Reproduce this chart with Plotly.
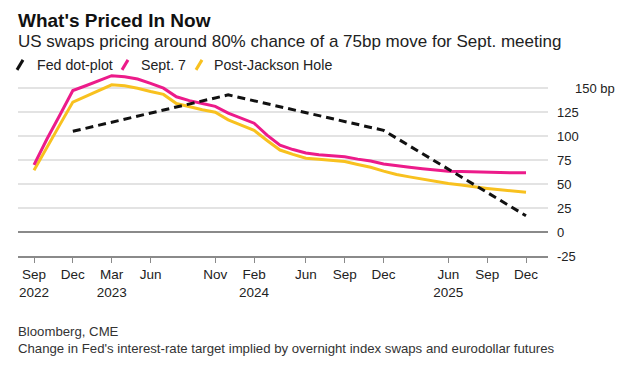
import plotly.graph_objects as go

# ---------------- data ----------------
months = ["2022-09", "2022-10", "2022-11", "2022-12",
          "2023-01", "2023-02", "2023-03", "2023-04", "2023-05", "2023-06",
          "2023-07", "2023-08", "2023-09", "2023-10", "2023-11", "2023-12",
          "2024-01", "2024-02", "2024-03", "2024-04", "2024-05", "2024-06",
          "2024-07", "2024-08", "2024-09", "2024-10", "2024-11", "2024-12",
          "2025-01", "2025-02", "2025-04", "2025-05", "2025-06",
          "2025-07", "2025-08", "2025-09", "2025-10", "2025-11", "2025-12"]

sept7 = [70, 97, 122, 147.5,
         152.5, 158, 163, 162, 159.5, 155,
         150, 141, 137, 134, 131, 124,
         119, 113.5, 101, 90.5, 86, 82.5,
         80.5, 79.5, 78.5, 76, 74, 71,
         69, 67.5, 66, 64.5, 63.5,
         63, 62.5, 62, 62, 61.8, 61.7]

post_jackson = [64.5, 89, 112, 135.5,
                141.5, 147.5, 153.5, 152.5, 150, 146.5,
                143.5, 134, 130.5, 127.5, 125, 117,
                111.5, 106, 95.5, 85.5, 81, 77,
                76, 75, 73.5, 70.5, 67.5, 63.5,
                60, 57.5, 55, 52.5, 50.5,
                49, 47, 45.5, 44, 42.5, 41.5]

dot_months = ["2022-12", "2023-12", "2024-12", "2025-12"]
dot_values = [105, 143, 106, 17]

tick_months = ["2022-09", "2022-12", "2023-03", "2023-06", "2023-11", "2024-02",
               "2024-06", "2024-09", "2024-12", "2025-06", "2025-09", "2025-12"]
tick_labels = ["Sep<br>2022", "Dec", "Mar<br>2023", "Jun", "Nov", "Feb<br>2024",
               "Jun", "Sep", "Dec", "Jun<br>2025", "Sep", "Dec"]

y_ticks = [-25, 0, 25, 50, 75, 100, 125, 150]
y_labels = ["-25", "0", "25", "50", "75", "100", "125", ""]

series_names = ["Fed dot-plot", "Sept. 7", "Post-Jackson Hole"]

# ---------------- style ----------------
OFF = 8                   # page body margin of the html page
W, H = 624 - OFF, 375 - OFF
PL, PR = 18, 548          # plot area left/right (window px)
Y_LO, Y_HI = -25, 170
PB = 256                  # window px of y=-25
PPU = (256 - 88.3) / 175  # px per unit
PT = PB - (Y_HI - Y_LO) * PPU

PINK = "#ec1b8a"
YELLOW = "#f8c11f"
BLACK = "#111111"
FONT = "Liberation Sans, Arial, sans-serif"


def px_x(p):
    return (p - PL) / (PR - PL)


def px_y(p):
    return (PB - p) / (PB - PT)


fig = go.Figure()

fig.add_trace(go.Scatter(x=months, y=post_jackson, mode="lines", name=series_names[2],
                         line=dict(color=YELLOW, width=3), showlegend=False))
fig.add_trace(go.Scatter(x=months, y=sept7, mode="lines", name=series_names[1],
                         line=dict(color=PINK, width=3), showlegend=False))
fig.add_trace(go.Scatter(x=dot_months, y=dot_values, mode="lines", name=series_names[0],
                         line=dict(color=BLACK, width=3, dash="8px,5px"), showlegend=False))

n = len(months)
step = (526 - 34) / (n - 1)
x_lo = -(34 - PL) / step
x_hi = (n - 1) + (PR - 526) / step

fig.update_layout(
    width=W, height=H,
    margin=dict(l=PL - OFF, r=624 - PR, t=PT - OFF, b=375 - PB, pad=0),
    paper_bgcolor="white", plot_bgcolor="white",
    font=dict(family=FONT, color="#222222", size=13),
    xaxis=dict(type="category", categoryorder="array", categoryarray=months,
               range=[x_lo, x_hi], tickmode="array", tickvals=tick_months,
               ticktext=tick_labels, showgrid=False, showline=True,
               linecolor="#8a8a8a", linewidth=1.5, ticks="outside", ticklen=5,
               tickcolor="#8a8a8a", tickwidth=1.2, tickfont=dict(size=13.5, color="#222222"),
               zeroline=False, fixedrange=True, automargin=False),
    yaxis=dict(range=[Y_LO, Y_HI], side="right", tickmode="array", tickvals=y_ticks,
               ticktext=y_labels, showgrid=True, gridcolor="#e3e3e3", gridwidth=1.5,
               zeroline=True, zerolinecolor="#8a8a8a", zerolinewidth=1.5,
               ticks="", ticklabelstandoff=8, tickfont=dict(size=13, color="#222222"),
               showline=False, fixedrange=True, automargin=False),
)

annotations = [
    dict(text="<b>What's Priced In Now</b>", x=px_x(16), y=px_y(8.5), xanchor="left",
         yanchor="top", font=dict(size=19, color="#111111")),
    dict(text="US swaps pricing around 80% chance of a 75bp move for Sept. meeting",
         x=px_x(16), y=px_y(42), xanchor="left", yanchor="middle",
         font=dict(size=17, color="#222222")),
    dict(text="150 bp", x=px_x(573), y=150, yref="y", xanchor="left", yanchor="middle",
         font=dict(size=13, color="#222222")),
    dict(text="Bloomberg, CME", x=px_x(16), y=px_y(331), xanchor="left", yanchor="middle",
         font=dict(size=13.2, color="#333333")),
    dict(text="Change in Fed's interest-rate target implied by overnight index swaps and eurodollar futures",
         x=px_x(16), y=px_y(348), xanchor="left", yanchor="middle",
         font=dict(size=13.2, color="#333333")),
]

# legend: slash + label
legend_items = [(BLACK, series_names[0], 20, 35), (PINK, series_names[1], 125, 139),
                (YELLOW, series_names[2], 199, 212)]
shapes = []
for color, label, sx, tx in legend_items:
    shapes.append(dict(type="line", xref="paper", yref="paper",
                       x0=px_x(sx - 3), y0=px_y(70), x1=px_x(sx + 3), y1=px_y(60),
                       line=dict(color=color, width=3)))
    annotations.append(dict(text=label, x=px_x(tx), y=px_y(65), xanchor="left",
                            yanchor="middle", font=dict(size=14.2, color="#222222")))

for a in annotations:
    a.setdefault("xref", "paper")
    a.setdefault("yref", "paper")
    a["showarrow"] = False

fig.update_layout(annotations=annotations, shapes=shapes)

fig.write_html("out.html")
